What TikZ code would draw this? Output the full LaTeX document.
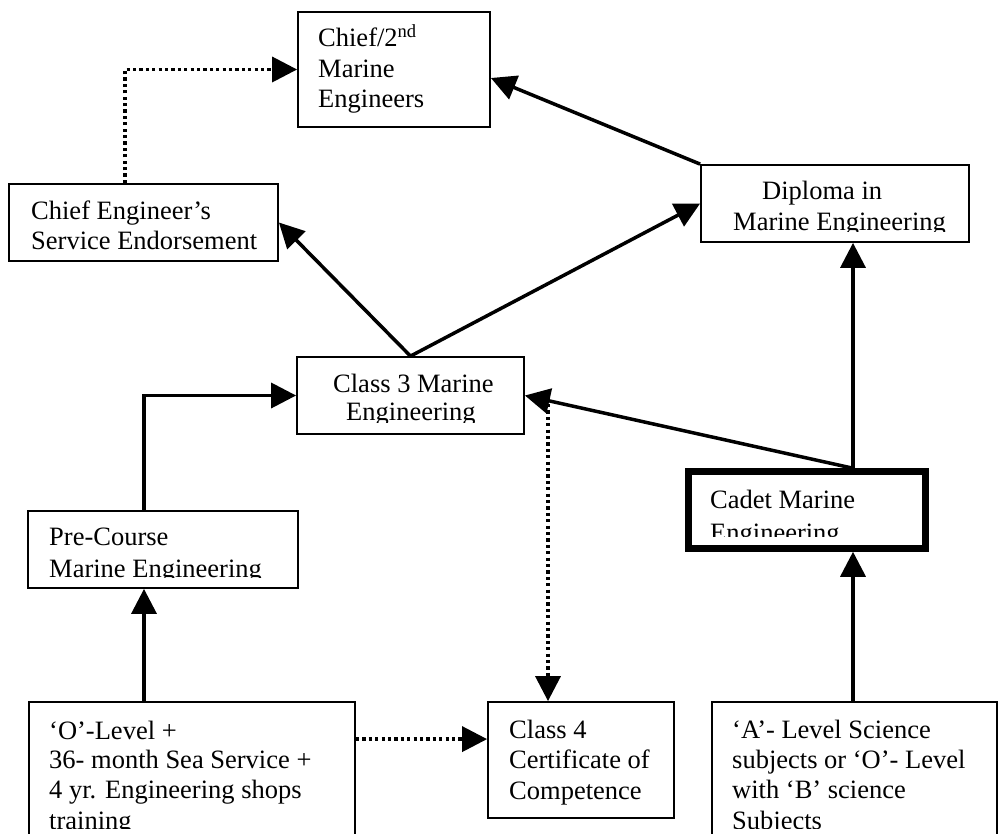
\documentclass[tikz,border=0pt]{standalone}
\usepackage{fontspec}
\setmainfont{Liberation Serif}
\usetikzlibrary{arrows.meta}
\begin{document}
\begin{tikzpicture}[x=1pt,y=-1pt,
  box/.style={draw, rectangle, line width=1.8pt, inner sep=0pt},
  thickbox/.style={box, line width=6.5pt},
  txt/.style={anchor=base west, inner sep=0pt, font=\fontsize{26.5}{30}\selectfont},
  link/.style={line width=3.5pt, -{Triangle[length=25pt,width=25pt]}},
  dotlink/.style={link, dash pattern=on 3.2pt off 3.2pt}]
\clip (0,0) rectangle (1000,834);

% boxes
\node[box, minimum width=192pt, minimum height=115pt] (A) at (394,69.5) {};
\node[box, minimum width=269pt, minimum height=77pt] (B) at (143.5,222.5) {};
\node[box, minimum width=268pt, minimum height=77pt] (D) at (835,203.5) {};
\node[box, minimum width=227pt, minimum height=77pt] (C) at (410.5,395.5) {};
\node[thickbox, minimum width=237pt, minimum height=77pt] (E) at (807,510) {};
\node[box, minimum width=270pt, minimum height=77pt] (P) at (163,549.5) {};
\node[box, minimum width=326pt, minimum height=160pt] (O) at (192,782) {};
\node[box, minimum width=186pt, minimum height=116pt] (F) at (581,760) {};
\node[box, minimum width=285pt, minimum height=160pt] (G) at (854.5,782) {};

% box texts
\node[txt] (a1) at (318,47) {Chief/2\textsuperscript{nd}};
\node[txt] (a2) at (318,78) {Marine};
\node[txt] (a3) at (318,108) {Engineers};

\node[txt] (b1) at (31,220) {Chief Engineer’s};
\node[txt] (b2) at (31,250) {Service Endorsement};

\begin{scope}
  \clip (701,165) rectangle (969,232);
  \node[txt] (d1) at (762,200) {Diploma in};
  \node[txt] (d2) at (733,230) {Marine Engineering};
\end{scope}

\begin{scope}
  \clip (297,357) rectangle (524,422);
  \node[txt] (c1) at (333,392) {Class 3 Marine};
  \node[txt] (c2) at (346,420) {Engineering};
\end{scope}

\begin{scope}
  \clip (692,475) rectangle (922,536);
  \node[txt] (e1) at (710,508) {Cadet Marine};
  \node[txt] (e2) at (710,541) {Engineering};
\end{scope}

\begin{scope}
  \clip (28,511) rectangle (298,577);
  \node[txt] (p1) at (49,545) {Pre-Course};
  \node[txt] (p2) at (49,577) {Marine Engineering};
\end{scope}

\begin{scope}
  \clip (29,702) rectangle (355,828);
  \node[txt] (o1) at (49,739) {‘O’-Level +};
  \node[txt] (o2) at (49,768) {36- month Sea Service +};
  \node[txt] (o3) at (49,798) {4 yr. Engineering shops};
  \node[txt] (o4) at (49,829) {training};
\end{scope}

\node[txt] (f1) at (509,738) {Class 4};
\node[txt] (f2) at (509,768) {Certificate of};
\node[txt] (f3) at (509,799) {Competence};

\begin{scope}
  \clip (712,702) rectangle (997,828);
  \node[txt] (g1) at (732,738) {‘A’- Level Science};
  \node[txt] (g2) at (732,768) {subjects or ‘O’- Level};
  \node[txt] (g3) at (732,798) {with ‘B’ science};
  \node[txt] (g4) at (732,829) {Subjects};
\end{scope}

% connectors
\coordinate (cq) at (548,404);
\draw[dotlink] ([xshift=-18.5pt]B.north) |- (A.west);
\draw[dotlink] ([yshift=-38pt]O.north east) -- ([yshift=-38pt]F.north west);
\draw[dotlink] (cq) -- (F.north -| cq);

\draw[link] (D.north west) -- ([yshift=-8.5pt]A.east);
\draw[link] (C.north) -- (B.east);
\draw[link] (C.north) -- (D.west);
\draw[link] ([xshift=46pt]E.north) -- ([xshift=18pt]D.south);
\draw[link] ([xshift=46pt]E.north) -- (C.east);
\draw[link] ([xshift=-19pt]P.north) |- (C.west);
\draw[link] ([xshift=-48pt]O.north) -- ([xshift=-19pt]P.south);
\draw[link] ([xshift=-1.5pt]G.north) -- ([xshift=46pt]E.south);
\end{tikzpicture}
\end{document}
